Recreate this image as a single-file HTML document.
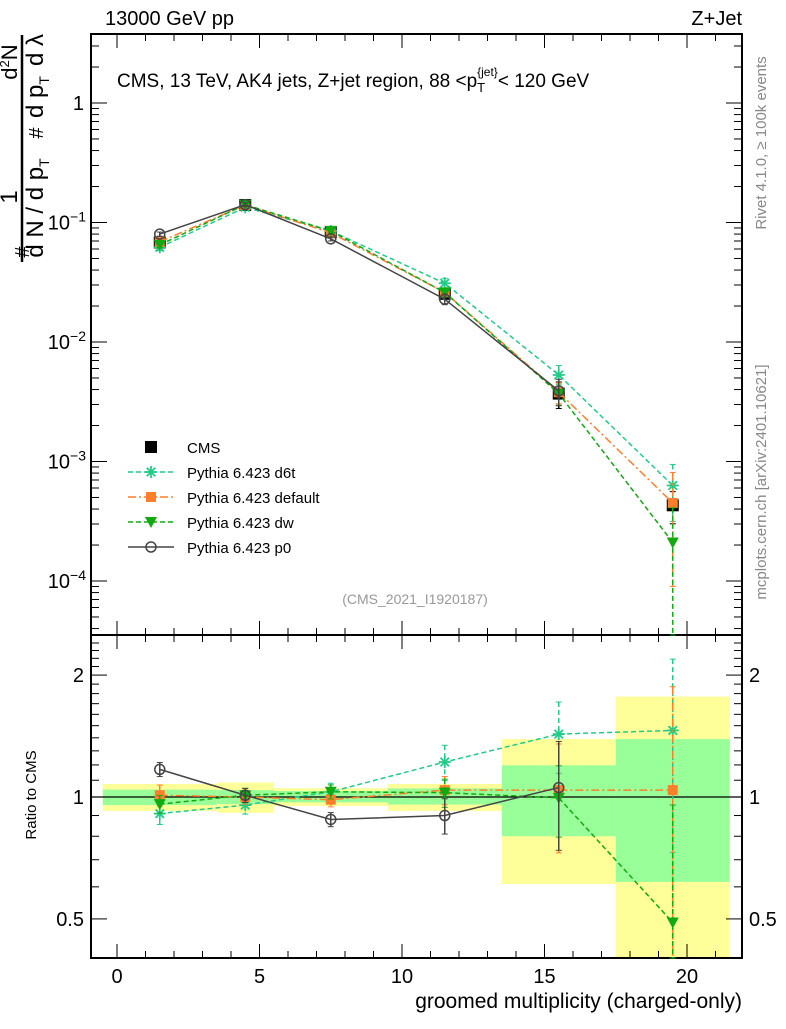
<!DOCTYPE html>
<html><head><meta charset="utf-8"><style>
body{margin:0;background:#fff;font-family:"Liberation Sans",sans-serif}
svg text{font-family:"Liberation Sans","DejaVu Sans",sans-serif}
</style></head><body>
<svg id="c" width="786" height="1024" xmlns="http://www.w3.org/2000/svg"></svg>
<script>
const xCenters=[1.5,4.5,7.5,11.5,15.5,19.5];
const cms=[0.068,0.14,0.083,0.0253,0.0037,0.00043];
const cmsErr=[0.04,0.04,0.04,0.06,0.25,0.3];
const d6t=[0.062,0.134,0.085,0.031,0.0053,0.00063];
const d6tErr=[0.06,0.04,0.05,0.1,0.2,0.5];
const dflt=[0.069,0.14,0.082,0.026,0.0038,0.00045];
const dfltErr=[0.06,0.04,0.04,0.08,0.2,0.8];
const dw=[0.065,0.141,0.085,0.026,0.0037,0.00021];
const dwErr=[0.05,0.04,0.04,0.08,0.2,0.95];
const p0=[0.080,0.141,0.073,0.0228,0.0039];
const p0Err=[0.04,0.04,0.04,0.1,0.25];
const rD6t=[0.91,0.955,1.03,1.22,1.43,1.46];
const rDflt=[1.01,1.0,0.985,1.04,1.04,1.04];
const rDw=[0.96,1.01,1.03,1.025,0.995,0.49];
const rP0=[1.17,1.01,0.88,0.9,1.055];
const binEdges=[-0.5,3.5,5.5,9.5,13.5,17.5,21.5];
const yelLo=[0.924,0.914,0.95,0.924,0.61,0.3];
const yelHi=[1.077,1.086,1.051,1.077,1.39,1.77];
const grnLo=[0.955,0.96,0.97,0.958,0.80,0.617];
const grnHi=[1.043,1.04,1.035,1.05,1.197,1.39];
const xTicks=[0,5,10,15,20];

const S=document.getElementById('c'),NS='http://www.w3.org/2000/svg';
function E(t,a,p){const e=document.createElementNS(NS,t);for(const k in a)e.setAttribute(k,a[k]);(p||S).appendChild(e);return e;}
const L=91,R=742,T=34,MB=635,RB=958;
const X=v=>117+v*28.5;
const Y=v=>103-Math.log10(v)*119.5;
const YR=v=>797-Math.log10(v)*405;
const clip=(y,a,b)=>Math.max(a,Math.min(b,y));
for(let i=0;i<yelLo.length;i++){
 let r=E('rect',{x:X(binEdges[i]),width:X(binEdges[i+1])-X(binEdges[i]),y:clip(YR(yelHi[i]),MB,RB),height:clip(YR(yelLo[i]),MB,RB)-clip(YR(yelHi[i]),MB,RB),fill:'#ffff99'});
 
 
 let g=E('rect',{x:X(binEdges[i]),width:X(binEdges[i+1])-X(binEdges[i]),y:YR(grnHi[i]),height:YR(grnLo[i])-YR(grnHi[i]),fill:'#99ff99'});
 
 
}
E('line',{x1:L,x2:R,y1:YR(1),y2:YR(1),stroke:'#000','stroke-width':1.3});
E('rect',{x:L,y:T,width:R-L,height:MB-T,fill:'none',stroke:'#000','stroke-width':2});
E('rect',{x:L,y:MB,width:R-L,height:RB-MB,fill:'none',stroke:'#000','stroke-width':2});
for(let v=0;v<=21;v+=1){const maj=v%5===0,len=maj?14:7;const x=X(v);
 for(const [a,b] of [[T,1],[MB,1],[MB,-1],[RB,-1]])E('line',{x1:x,x2:x,y1:a,y2:a+b*len,stroke:'#000'});}
xTicks.forEach(v=>{const t=E('text',{x:X(v),y:983,'font-size':20,'text-anchor':'middle'});t.textContent=v;});
let xt=E('text',{x:742,y:1008,'font-size':21,'text-anchor':'end'});xt.textContent='groomed multiplicity (charged-only)';

for(let d=-5;d<=0;d++){for(let m=1;m<10;m++){const v=m*Math.pow(10,d);const y=Y(v);if(y<T||y>MB)continue;const len=m===1?16:8;
 E('line',{x1:L,x2:L+len,y1:y,y2:y,stroke:'#000'});E('line',{x1:R,x2:R-len,y1:y,y2:y,stroke:'#000'});}
 const y=Y(Math.pow(10,d));if(y>=T&&y<=MB){const t=E('text',{x:d===0?84:86,y:y+7,'font-size':20,'text-anchor':'end'});
 if(d===0)t.textContent='1';else{t.textContent='10';const s=E('tspan',{dy:-8,'font-size':14},t);s.textContent='−'+(-d);}
 }}
for(let v=0.4;v<=2.5;v+=0.1){const y=YR(v);if(y<MB||y>RB)continue;const maj=[0.5,1,2].some(m=>Math.abs(m-v)<1e-6);const len=maj?16:8;
 E('line',{x1:L,x2:L+len,y1:y,y2:y,stroke:'#000'});E('line',{x1:R,x2:R-len,y1:y,y2:y,stroke:'#000'});}
[[0.5,'0.5'],[1,'1'],[2,'2']].forEach(([v,s])=>{for(const [x,a] of [[84,'end'],[749,'start']]){const t=E('text',{x:x,y:YR(v)+7,'font-size':20,'text-anchor':a});t.textContent=s;}});
function series(name,vals,errs,ys,col,dash,marker,ymin,ymax){
 const g=E('g',{});
 const pts=vals.map((v,i)=>[X(xCenters[i]),ys(v)]);
 if(dash!==null)E('polyline',{points:pts.map(p=>p.join(',')).join(' '),fill:'none',stroke:col,'stroke-width':1.5,'stroke-dasharray':dash},g);
 vals.forEach((v,i)=>{const x=pts[i][0];const y1=clip(ys(v*(1+errs[i])),ymin,ymax),y2=clip(ys(Math.max(v*(1-errs[i]),1e-9)),ymin,ymax);
  E('line',{x1:x,x2:x,y1:y1,y2:y2,stroke:col,'stroke-width':1.5,'stroke-dasharray':dash||'none'},g);
  E('line',{x1:x-3,x2:x+3,y1:y1,y2:y1,stroke:col},g);E('line',{x1:x-3,x2:x+3,y1:y2,y2:y2,stroke:col},g);
  mark(marker,x,pts[i][1],col,g);});
}
function mark(m,x,y,col,g){
 if(m==='sq')E('rect',{x:x-6,y:y-6,width:12,height:12,fill:col},g);
 else if(m==='osq')E('rect',{x:x-5,y:y-5,width:10,height:10,fill:col},g);
 else if(m==='tri')E('polygon',{points:`${x-6},${y-5} ${x+6},${y-5} ${x},${y+6}`,fill:col},g);
 else if(m==='circ')E('circle',{cx:x,cy:y,r:5,fill:'none',stroke:col,'stroke-width':1.5},g);
 else if(m==='star'){for(let a=0;a<4;a++){const an=a*Math.PI/4;E('line',{x1:x-6*Math.cos(an),y1:y-6*Math.sin(an),x2:x+6*Math.cos(an),y2:y+6*Math.sin(an),stroke:col,'stroke-width':1.8},g);}}
}
const C6='#22cc88',CD='#ff7f2a',CW='#11aa11',CP='#444';
series('cms-data',cms,cmsErr,Y,'#000',null,'sq',T,MB);
series('d6t-line',d6t,d6tErr,Y,C6,'5,3','star',T,MB);
series('default-line',dflt,dfltErr,Y,CD,'8,3,2,3','osq',T,MB);
series('dw-line',dw,dwErr,Y,CW,'5,3','tri',T,MB);
series('p0-line',p0,p0Err,Y,CP,'none','circ',T,MB);
series('d6t-ratio',rD6t,[0.06,0.05,0.05,0.1,0.2,0.5],YR,C6,'5,3','star',MB,RB);
series('default-ratio',rDflt,[0.06,0.04,0.04,0.08,0.3,0.8],YR,CD,'8,3,2,3','osq',MB,RB);
series('dw-ratio',rDw,[0.05,0.04,0.04,0.08,0.2,0.95],YR,CW,'5,3','tri',MB,RB);
series('p0-ratio',rP0,[0.04,0.04,0.04,0.1,0.3],YR,CP,'none','circ',MB,RB);
const leg=[['CMS','#000',null,'sq'],['Pythia 6.423 d6t',C6,'5,3','star'],['Pythia 6.423 default',CD,'8,3,2,3','osq'],['Pythia 6.423 dw',CW,'5,3','tri'],['Pythia 6.423 p0',CP,'none','circ']];
leg.forEach((l,i)=>{const y=447+i*25;const g=E('g',{});
 if(l[2]!==null)E('line',{x1:128,x2:174,y1:y,y2:y,stroke:l[1],'stroke-width':1.5,'stroke-dasharray':l[2]},g);
 mark(l[3],151,y,l[1],g);const t=E('text',{x:187,y:y+6,'font-size':15},g);t.textContent=l[0];});
function txt(s,a,name){const t=E('text',a);t.textContent=s;return t;}
txt('13000 GeV pp',{x:105,y:25,'font-size':20},'energy-label');
txt('Z+Jet',{x:742,y:25,'font-size':20,'text-anchor':'end'},'process-label');
const ti=txt('CMS, 13 TeV, AK4 jets, Z+jet region, 88 <p',{x:117,y:87,'font-size':19},'plot-title');
let s1=E('tspan',{dy:5,'font-size':13},ti);s1.textContent='T';let s2=E('tspan',{dx:-8,dy:-16,'font-size':12},ti);s2.textContent='{jet}';let s3=E('tspan',{dy:11,'font-size':19},ti);s3.textContent='< 120 GeV';
txt('(CMS_2021_I1920187)',{x:415,y:604,'font-size':14,fill:'#999','text-anchor':'middle'},'analysis-id');
txt('Rivet 4.1.0, ≥ 100k events',{x:0,y:0,'font-size':15,fill:'#888','text-anchor':'middle',transform:'translate(766,143) rotate(-90)'},'rivet-label');
txt('mcplots.cern.ch [arXiv:2401.10621]',{x:0,y:0,'font-size':15,fill:'#888','text-anchor':'middle',transform:'translate(766,482) rotate(-90)'},'mcplots-label');
txt('Ratio to CMS',{x:0,y:0,'font-size':15,'text-anchor':'middle',transform:'translate(36,795) rotate(-90)'},'ratio-axis-title');
const yt=E('g',{});
E('line',{x1:22,x2:22,y1:35,y2:262,stroke:'#000','stroke-width':2.5},yt);
function rt(s,x,y,fs){const t=E('text',{x:0,y:0,'font-size':fs,'text-anchor':'middle',transform:`translate(${x},${y}) rotate(-90)`},yt);t.textContent=s;return t;}
rt('1',17,197,24);
const dn=rt('d',17,62,22);let sp=E('tspan',{dy:-8,'font-size':13},dn);sp.textContent='2';let sn=E('tspan',{dy:8},dn);sn.textContent='N';
rt('#',29,252,20);
const a=rt('d N / d p',43,208,24);let at=E('tspan',{dy:6,'font-size':14},a);at.textContent='T';
rt('#',43,133,20);
const b=rt('d p',43,97,24);let bt=E('tspan',{dy:6,'font-size':14},b);bt.textContent='T';
rt('d λ',43,50,24);
</script></body></html>
